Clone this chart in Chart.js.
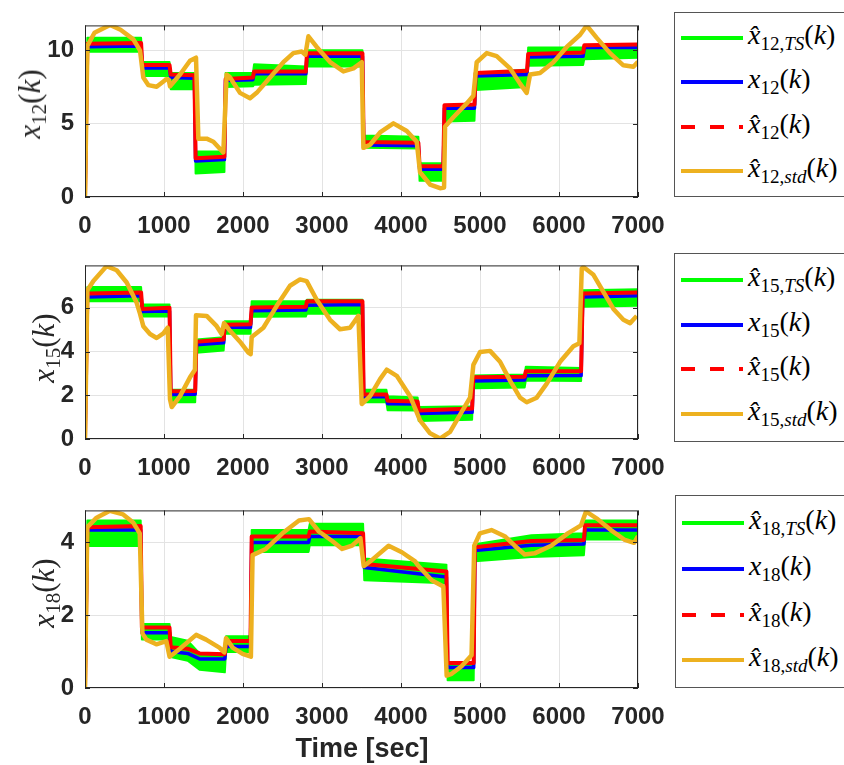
<!DOCTYPE html>
<html lang="en">
<head>
<meta charset="UTF-8">
<title>State estimates x12, x15, x18</title>
<script src="https://cdn.jsdelivr.net/npm/chart.js"></script>
<style>
  body { margin: 0; background: #fff; }
  #page { position: relative; width: 844px; height: 765px; overflow: hidden; font-family: "Liberation Sans", Arial, sans-serif; }
  canvas { position: absolute; left: 0; }
  .ylab { position: absolute; font-family: "Liberation Serif", serif; font-size: 31px; color: #262626;
          white-space: nowrap; transform: translate(-50%, -50%) rotate(-90deg); }
  .legend { position: absolute; width: 200px; border: 1px solid #555; background: #fff; }
  .row { position: absolute; left: 6px; height: 0; }
  .row svg { position: absolute; left: 0; top: -3px; }
  .row span { position: absolute; left: 67px; top: -19px; font-family: "Liberation Serif", serif; font-size: 28px;
              white-space: nowrap; color: #000; line-height: 32px; }
  sub { font-size: 68%; vertical-align: -0.3em; line-height: 0; }
  #xlabel { position: absolute; left: 362px; top: 748px; transform: translate(-50%, -50%);
            font-weight: bold; font-size: 27px; color: #262626; white-space: nowrap; }
</style>
</head>
<body>
<div id="page">
  <canvas id="c12" width="690" height="240" style="top:0px"></canvas>
  <canvas id="c15" width="690" height="245" style="top:240px"></canvas>
  <canvas id="c18" width="690" height="280" style="top:485px"></canvas>

  <div class="ylab" style="left:30px; top:104px"><i>x</i><sub>12</sub>(<i>k</i>)</div>
  <div class="ylab" style="left:44px; top:348px"><i>x</i><sub>15</sub>(<i>k</i>)</div>
  <div class="ylab" style="left:44px; top:593px"><i>x</i><sub>18</sub>(<i>k</i>)</div>

  <div class="legend" id="leg12" style="left:674px; top:12px; height:183px"></div>
  <div class="legend" id="leg15" style="left:674px; top:253px; height:187px"></div>
  <div class="legend" id="leg18" style="left:675px; top:495px; height:191px"></div>

  <div id="xlabel">Time [sec]</div>
</div>

<script>
// x axis ticks shared by all three panels
const xTicks = [0, 1000, 2000, 3000, 4000, 5000, 6000, 7000];

// ---- x12 ----
const y12Ticks = [0, 5, 10];
const t12 = [0, 30, 710, 725, 1070, 1085, 1385, 1400, 1765, 1780, 2125, 2140, 2795, 2810, 3512, 3527, 4220, 4235, 4535, 4550, 4930, 4945, 5595, 5610, 6305, 6320, 7000];
const x12 = [0, 10.25, 10.3, 8.8, 8.8, 8.15, 8.1, 2.45, 2.55, 7.95, 8.0, 8.4, 8.4, 9.6, 9.6, 3.55, 3.5, 1.9, 1.9, 6.05, 6.05, 8.25, 8.35, 9.55, 9.6, 10.2, 10.2];
const x12Hat = [0, 10.45, 10.5, 9.0, 9.0, 8.35, 8.3, 2.65, 2.75, 8.05, 8.15, 8.55, 8.55, 9.8, 9.8, 3.75, 3.7, 2.1, 2.1, 6.25, 6.3, 8.45, 8.6, 9.75, 9.85, 10.35, 10.4];
// TS estimate is a noisy band: upper and lower edges
const x12TSHi = [0, 10.85, 10.85, 9.2, 9.2, 8.45, 8.45, 3.1, 3.1, 8.45, 8.45, 9.05, 8.9, 10.0, 10.0, 4.2, 4.1, 2.3, 2.3, 6.25, 6.3, 8.4, 8.7, 10.2, 10.2, 10.35, 10.35];
const x12TSLo = [0, 9.9, 9.9, 8.25, 8.25, 7.35, 7.35, 1.6, 1.7, 7.5, 7.55, 7.65, 7.7, 8.9, 8.9, 3.35, 3.3, 1.1, 1.1, 5.15, 5.2, 7.3, 7.5, 8.95, 9.0, 9.4, 9.5];
const t12Std = [0, 30, 120, 317, 450, 612, 696, 738, 801, 907, 1033, 1060, 1076, 1203, 1329, 1405, 1435, 1540, 1625, 1751, 1793, 1830, 1962, 2089, 2173, 2342, 2511, 2637, 2743, 2790, 2828, 2933, 3102, 3271, 3398, 3503, 3524, 3609, 3735, 3904, 4073, 4199, 4241, 4368, 4494, 4545, 4558, 4663, 4832, 4916, 4958, 5085, 5211, 5380, 5507, 5591, 5634, 5760, 5929, 6098, 6267, 6351, 6478, 6646, 6815, 6942, 7000];
const x12Std = [0, 10.3, 11.2, 11.73, 11.4, 10.75, 10.0, 8.15, 7.63, 7.52, 8.04, 8.0, 7.55, 8.35, 9.29, 9.5, 3.98, 3.98, 3.77, 3.04, 8.35, 8.2, 7.1, 6.73, 7.1, 8.15, 9.19, 9.81, 9.92, 9.7, 10.96, 10.23, 9.2, 8.56, 8.77, 9.19, 3.35, 3.56, 4.4, 5.02, 4.5, 3.77, 1.69, 0.85, 0.6, 0.65, 4.81, 5.44, 6.38, 6.9, 9.19, 9.81, 9.6, 8.77, 7.73, 7.1, 8.35, 8.46, 9.19, 10.23, 11.06, 11.69, 10.85, 9.81, 8.98, 8.88, 9.23];

// ---- x15 ----
const y15Ticks = [0, 2, 4, 6];
const t15 = [0, 30, 710, 725, 1070, 1085, 1395, 1410, 1755, 1770, 2095, 2110, 2795, 2810, 3512, 3527, 3815, 3830, 4210, 4225, 4900, 4915, 5565, 5580, 6280, 6300, 7000];
const x15 = [0, 6.5, 6.55, 5.83, 5.85, 2.03, 2.05, 4.31, 4.4, 5.12, 5.1, 5.87, 5.9, 6.12, 6.15, 1.93, 1.93, 1.61, 1.6, 1.17, 1.22, 2.65, 2.7, 2.89, 2.9, 6.5, 6.55];
const x15Hat = [0, 6.65, 6.7, 5.95, 6.0, 2.18, 2.2, 4.45, 4.55, 5.23, 5.25, 6.02, 6.05, 6.3, 6.3, 2.03, 2.03, 1.75, 1.72, 1.3, 1.39, 2.82, 2.85, 3.1, 3.1, 6.65, 6.7];
const x15TSHi = [0, 6.95, 6.95, 6.15, 6.15, 2.25, 2.25, 4.55, 4.65, 5.38, 5.38, 6.3, 6.3, 6.37, 6.37, 2.25, 2.25, 1.96, 1.9, 1.46, 1.5, 2.9, 2.95, 3.31, 3.25, 6.8, 6.85];
const x15TSLo = [0, 6.3, 6.3, 5.6, 5.6, 1.68, 1.68, 3.95, 4.05, 4.81, 4.81, 5.59, 5.6, 5.73, 5.73, 1.68, 1.68, 1.32, 1.3, 0.82, 0.88, 2.32, 2.35, 2.67, 2.65, 6.05, 6.1];
const t15Std = [0, 30, 106, 274, 401, 528, 654, 696, 738, 823, 907, 992, 1047, 1076, 1098, 1203, 1329, 1392, 1405, 1540, 1667, 1730, 1760, 1836, 1962, 2068, 2097, 2110, 2258, 2427, 2595, 2722, 2806, 2933, 3102, 3228, 3355, 3461, 3503, 3609, 3735, 3819, 3946, 4115, 4241, 4368, 4494, 4621, 4748, 4874, 4916, 5001, 5127, 5254, 5380, 5507, 5591, 5718, 5845, 6014, 6182, 6258, 6288, 6309, 6436, 6562, 6689, 6815, 6900, 6984];
const x15Std = [0, 6.8, 7.23, 7.91, 7.72, 7.16, 6.23, 5.73, 5.16, 4.8, 4.62, 4.83, 5.09, 1.82, 1.46, 1.96, 2.82, 3.17, 5.66, 5.63, 5.16, 4.8, 5.3, 4.95, 4.45, 3.95, 3.88, 4.66, 5.09, 6.09, 7.01, 7.3, 7.22, 6.37, 5.45, 5.02, 5.09, 5.63, 1.6, 1.96, 2.74, 3.17, 2.89, 1.96, 0.85, 0.26, 0.02, 0.33, 1.11, 1.89, 3.39, 3.98, 4.03, 3.53, 2.67, 1.89, 1.68, 1.89, 2.53, 3.53, 4.24, 4.38, 7.8, 7.87, 7.51, 6.73, 5.95, 5.45, 5.3, 5.63];

// ---- x18 ----
const y18Ticks = [0, 2, 4];
const t18 = [0, 30, 705, 720, 1070, 1085, 1300, 1450, 1770, 1785, 2095, 2110, 2830, 2845, 3520, 3535, 4575, 4590, 4920, 4935, 5650, 6315, 6330, 7000];
const x18 = [0, 4.34, 4.34, 1.52, 1.52, 1.0, 0.95, 0.8, 0.8, 1.14, 1.14, 4.0, 4.0, 4.16, 4.16, 3.31, 3.05, 0.56, 0.56, 3.78, 3.92, 3.96, 4.34, 4.34];
const x18Hat = [0, 4.42, 4.45, 1.66, 1.66, 1.12, 1.08, 0.95, 0.93, 1.29, 1.29, 4.16, 4.16, 4.3, 4.25, 3.41, 3.2, 0.69, 0.69, 3.87, 4.04, 4.07, 4.47, 4.47];
const x18TSHi = [0, 4.6, 4.6, 1.76, 1.76, 1.4, 1.3, 0.95, 0.94, 1.42, 1.42, 4.34, 4.34, 4.51, 4.51, 3.56, 3.39, 0.64, 0.64, 3.95, 4.2, 4.25, 4.6, 4.6];
const x18TSLo = [0, 3.9, 3.9, 1.33, 1.33, 0.85, 0.75, 0.5, 0.43, 0.99, 0.99, 3.74, 3.74, 3.92, 3.92, 2.96, 2.88, 0.21, 0.21, 3.48, 3.6, 3.65, 4.08, 4.08];
const t18Std = [0, 29, 147, 315, 483, 609, 693, 727, 777, 903, 1029, 1071, 1197, 1407, 1533, 1701, 1764, 1785, 1869, 1995, 2100, 2121, 2289, 2499, 2709, 2835, 2961, 3129, 3255, 3381, 3486, 3528, 3633, 3843, 4011, 4179, 4221, 4389, 4536, 4578, 4641, 4767, 4893, 4927, 4998, 5145, 5313, 5439, 5565, 5691, 5901, 6111, 6279, 6342, 6489, 6657, 6825, 6951, 7000];
const x18Std = [0, 4.42, 4.68, 4.87, 4.77, 4.55, 4.25, 1.5, 1.33, 1.2, 1.29, 0.86, 1.07, 1.46, 1.33, 1.11, 0.98, 1.37, 1.11, 0.94, 0.86, 3.65, 3.82, 4.25, 4.6, 4.64, 4.3, 4.04, 3.82, 3.91, 4.12, 3.35, 3.52, 3.91, 3.73, 3.48, 3.35, 2.96, 2.79, 0.34, 0.39, 0.6, 0.9, 3.91, 4.25, 4.34, 4.17, 3.91, 3.67, 3.7, 3.91, 4.25, 4.47, 4.85, 4.64, 4.34, 4.08, 3.99, 4.17];

const colTS = '#00ff00', colTrue = '#0000ff', colHat = '#ff0000', colStd = '#edb120';
const axisCol = '#262626';
const tickFont = { family: '"Liberation Sans", Arial, sans-serif', size: 24, weight: 'bold' };

function pts(t, v) {
  return t.map((x, i) => ({ x: x, y: v[i] }));
}

// MATLAB style box with inward tick marks
const boxPlugin = {
  id: 'box',
  afterDraw(chart) {
    const { ctx, chartArea: a, scales } = chart;
    ctx.save();
    ctx.strokeStyle = axisCol;
    ctx.lineWidth = 1;
    ctx.strokeRect(a.left + 0.5, a.top + 0.5, a.width - 1, a.height - 1);
    ctx.beginPath();
    scales.x.ticks.forEach(tk => {
      const px = Math.round(scales.x.getPixelForValue(tk.value)) + 0.5;
      ctx.moveTo(px, a.bottom); ctx.lineTo(px, a.bottom - 5);
      ctx.moveTo(px, a.top); ctx.lineTo(px, a.top + 5);
    });
    scales.y.ticks.forEach(tk => {
      const py = Math.round(scales.y.getPixelForValue(tk.value)) + 0.5;
      ctx.moveTo(a.left, py); ctx.lineTo(a.left + 5, py);
      ctx.moveTo(a.right, py); ctx.lineTo(a.right - 5, py);
    });
    ctx.stroke();
    ctx.restore();
  }
};

function makeChart(id, o) {
  return new Chart(document.getElementById(id), {
    type: 'line',
    data: {
      datasets: [
        { data: pts(o.tStd, o.std), borderColor: colStd, borderWidth: 4.5, order: 1 },
        { data: pts(o.t, o.hat), borderColor: colHat, borderWidth: 4, order: 2 },
        { data: pts(o.t, o.tru), borderColor: colTrue, borderWidth: 3.5, order: 3 },
        { data: pts(o.t, o.hi), borderColor: colTS, backgroundColor: colTS, borderWidth: 2, fill: '+1', order: 4 },
        { data: pts(o.t, o.lo), borderColor: colTS, borderWidth: 2, order: 5 }
      ]
    },
    options: {
      responsive: false,
      animation: false,
      elements: {
        point: { radius: 0 },
        line: { tension: 0, fill: false, borderJoinStyle: 'round' }
      },
      // right padding leaves room for the last x label; plot right edge lands at 638px
      layout: { padding: { top: o.padTop, bottom: o.padBottom, left: 0, right: 52 } },
      plugins: { legend: { display: false }, tooltip: { enabled: false } },
      scales: {
        x: {
          type: 'linear', min: 0, max: 7000,
          afterBuildTicks: s => { s.ticks = xTicks.map(v => ({ value: v })); },
          afterFit: s => { s.height = 43; },
          ticks: { font: tickFont, color: axisCol, padding: 15, maxRotation: 0, callback: v => String(v) },
          grid: { color: '#e3e3e3', drawTicks: false },
          border: { display: false }
        },
        y: {
          type: 'linear', min: 0, max: o.yMax,
          afterBuildTicks: s => { s.ticks = o.yTicks.map(v => ({ value: v })); },
          afterFit: s => { s.width = 85; },
          ticks: { font: tickFont, color: axisCol, padding: 11, callback: v => String(v) },
          grid: { color: '#e3e3e3', drawTicks: false },
          border: { display: false }
        }
      }
    },
    plugins: [boxPlugin]
  });
}

makeChart('c12', { t: t12, tru: x12, hat: x12Hat, hi: x12TSHi, lo: x12TSLo, tStd: t12Std, std: x12Std,
  yMax: 11.7, yTicks: y12Ticks, padTop: 9, padBottom: 0 });
makeChart('c15', { t: t15, tru: x15, hat: x15Hat, hi: x15TSHi, lo: x15TSLo, tStd: t15Std, std: x15Std,
  yMax: 7.94, yTicks: y15Ticks, padTop: 13, padBottom: 3 });
makeChart('c18', { t: t18, tru: x18, hat: x18Hat, hi: x18TSHi, lo: x18TSLo, tStd: t18Std, std: x18Std,
  yMax: 4.88, yTicks: y18Ticks, padTop: 13, padBottom: 34 });

// legends drawn in HTML so the math labels keep sub/superscripts
function legendHTML(n, rows) {
  const items = [
    { col: colTS, dash: '', label: '<i>x&#770;</i><sub>' + n + ',<i>TS</i></sub>(<i>k</i>)' },
    { col: colTrue, dash: '', label: '<i>x</i><sub>' + n + '</sub>(<i>k</i>)' },
    { col: colHat, dash: '14 15', label: '<i>x&#770;</i><sub>' + n + '</sub>(<i>k</i>)' },
    { col: colStd, dash: '', label: '<i>x&#770;</i><sub>' + n + ',<i>std</i></sub>(<i>k</i>)' }
  ];
  return items.map((it, i) =>
    '<div class="row" style="top:' + rows[i] + 'px">' +
    '<svg width="62" height="6"><line x1="0" y1="3" x2="62" y2="3" stroke="' + it.col + '" stroke-width="4"' +
    (it.dash ? ' stroke-dasharray="' + it.dash + '"' : '') + '/></svg>' +
    '<span>' + it.label + '</span></div>').join('');
}
document.getElementById('leg12').innerHTML = legendHTML('12', [25, 69, 114, 158]);
document.getElementById('leg15').innerHTML = legendHTML('15', [26, 71, 115, 160]);
document.getElementById('leg18').innerHTML = legendHTML('18', [27, 73, 119, 164]);
</script>
</body>
</html>
